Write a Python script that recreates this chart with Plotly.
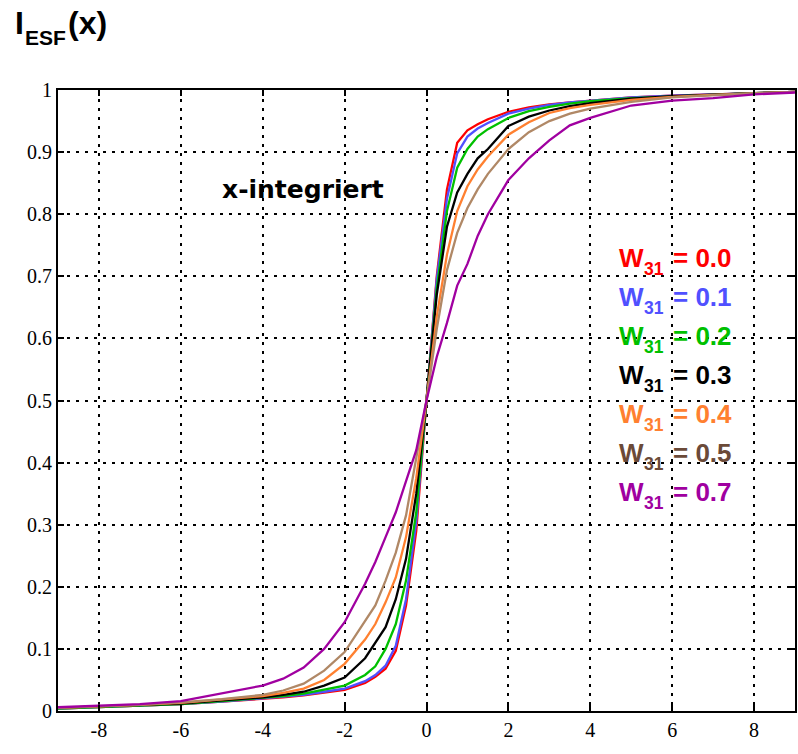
import plotly.graph_objects as go

x_vals = [-9, -8, -7, -6, -5, -4, -3.5, -3, -2.5, -2, -1.5, -1.25, -1, -0.75, -0.5, -0.25,
          0, 0.25, 0.5, 0.75, 1, 1.25, 1.5, 2, 2.5, 3, 3.5, 4, 5, 6, 7, 8, 9]

w00 = [0.004, 0.006, 0.008, 0.011, 0.015, 0.019, 0.022, 0.025, 0.029, 0.034, 0.045, 0.055, 0.068, 0.097, 0.17, 0.29,
       0.5, 0.70, 0.84, 0.915, 0.935, 0.945, 0.953, 0.965, 0.972, 0.977, 0.98, 0.983, 0.988, 0.991, 0.993, 0.995, 0.997]
w01 = [0.004, 0.006, 0.008, 0.011, 0.015, 0.020, 0.023, 0.026, 0.031, 0.036, 0.048, 0.058, 0.073, 0.105, 0.18, 0.305,
       0.5, 0.695, 0.825, 0.898, 0.925, 0.938, 0.947, 0.962, 0.970, 0.976, 0.98, 0.983, 0.988, 0.991, 0.993, 0.995, 0.997]
w02 = [0.004, 0.006, 0.008, 0.011, 0.016, 0.021, 0.024, 0.028, 0.034, 0.041, 0.058, 0.072, 0.10, 0.14, 0.21, 0.32,
       0.5, 0.68, 0.805, 0.875, 0.905, 0.925, 0.937, 0.955, 0.966, 0.973, 0.978, 0.982, 0.987, 0.99, 0.993, 0.995, 0.997]
w03 = [0.005, 0.007, 0.009, 0.012, 0.017, 0.022, 0.026, 0.031, 0.041, 0.054, 0.085, 0.11, 0.135, 0.18, 0.245, 0.35,
       0.5, 0.67, 0.78, 0.835, 0.865, 0.89, 0.905, 0.942, 0.957, 0.967, 0.974, 0.979, 0.986, 0.99, 0.993, 0.995, 0.997]
w04 = [0.005, 0.007, 0.010, 0.013, 0.018, 0.024, 0.029, 0.036, 0.05, 0.076, 0.115, 0.14, 0.175, 0.215, 0.28, 0.375,
       0.5, 0.635, 0.735, 0.805, 0.845, 0.872, 0.893, 0.928, 0.948, 0.963, 0.971, 0.976, 0.984, 0.989, 0.992, 0.995, 0.997]
w05 = [0.005, 0.007, 0.010, 0.014, 0.019, 0.026, 0.033, 0.044, 0.065, 0.095, 0.145, 0.17, 0.21, 0.255, 0.315, 0.405,
       0.5, 0.615, 0.71, 0.77, 0.81, 0.84, 0.865, 0.905, 0.932, 0.95, 0.962, 0.97, 0.981, 0.988, 0.992, 0.995, 0.997]
w07 = [0.006, 0.009, 0.011, 0.016, 0.028, 0.041, 0.052, 0.07, 0.10, 0.143, 0.205, 0.24, 0.28, 0.32, 0.37, 0.42,
       0.5, 0.57, 0.625, 0.685, 0.72, 0.765, 0.80, 0.855, 0.89, 0.919, 0.943, 0.955, 0.975, 0.983, 0.987, 0.993, 0.996]

series_labels = ["0.0", "0.1", "0.2", "0.3", "0.4", "0.5", "0.7"]
series_values = [w00, w01, w02, w03, w04, w05, w07]
line_colors = ["#ff0000", "#5050ff", "#00c000", "#000000", "#ff8030", "#b08866", "#a000a0"]
text_colors = ["#ff0000", "#5050ff", "#00c000", "#000000", "#ff8030", "#6b4a38", "#a000a0"]

x_ticks = [-8, -6, -4, -2, 0, 2, 4, 6, 8]
y_ticks = [0, 0.1, 0.2, 0.3, 0.4, 0.5, 0.6, 0.7, 0.8, 0.9, 1]
y_tick_text = ["0", "0.1", "0.2", "0.3", "0.4", "0.5", "0.6", "0.7", "0.8", "0.9", "1"]

W, H = 798, 754
ML, MR, MT, MB = 58, 1, 90, 43
PW, PH = W - ML - MR, H - MT - MB


def px(xp):
    return (xp - ML) / PW


def py(yp):
    return (H - MB - yp) / PH


fig = go.Figure()
for ys, col in zip(series_values, line_colors):
    fig.add_trace(go.Scatter(x=x_vals, y=ys, mode="lines",
                             line=dict(color=col, width=2.3), showlegend=False))

serif = "Liberation Serif, Times New Roman, serif"
sans = "Liberation Sans, Arial, Helvetica, sans-serif"

axis_common = dict(showline=True, linecolor="black", linewidth=2, mirror="ticks",
                   ticks="inside", ticklen=6, tickwidth=2, tickcolor="black",
                   showgrid=True, gridcolor="black", gridwidth=2, griddash="3px,6px",
                   zeroline=False, tickfont=dict(family=serif, size=20, color="black"))

fig.update_xaxes(range=[-9, 9], tickvals=x_ticks, ticktext=[str(v) for v in x_ticks], **axis_common)
fig.update_yaxes(range=[0, 1], tickvals=y_ticks, ticktext=y_tick_text, **axis_common)

annotations = []


def txt(x_px, y_px, text, size, color="black", family=sans):
    annotations.append(dict(xref="paper", yref="paper", x=px(x_px), y=py(y_px),
                            xanchor="left", yanchor="middle", text="<b>" + text + "</b>",
                            showarrow=False, borderpad=0, borderwidth=0,
                            font=dict(family=family, size=size, color=color)))


# title I_ESF(x)
txt(15, 23.5, "I", 32)
txt(24.5, 37, "ESF", 21)
txt(68, 23.5, "(x)", 32)

# x-integriert
txt(222, 189, "x-integriert", 25, family="DejaVu Sans, Liberation Sans, sans-serif")

# legend texts
for i, (lab, col) in enumerate(zip(series_labels, text_colors)):
    yc = 257.5 + i * 39.05
    txt(620.5, yc, "W", 26, col)
    txt(645.5, yc + 11, "31", 17.5, col)
    txt(675, yc, "= " + lab, 26, col)

fig.update_layout(width=W, height=H, margin=dict(l=ML, r=MR, t=MT, b=MB),
                  paper_bgcolor="white", plot_bgcolor="white", annotations=annotations)

fig.write_html("out.html")
